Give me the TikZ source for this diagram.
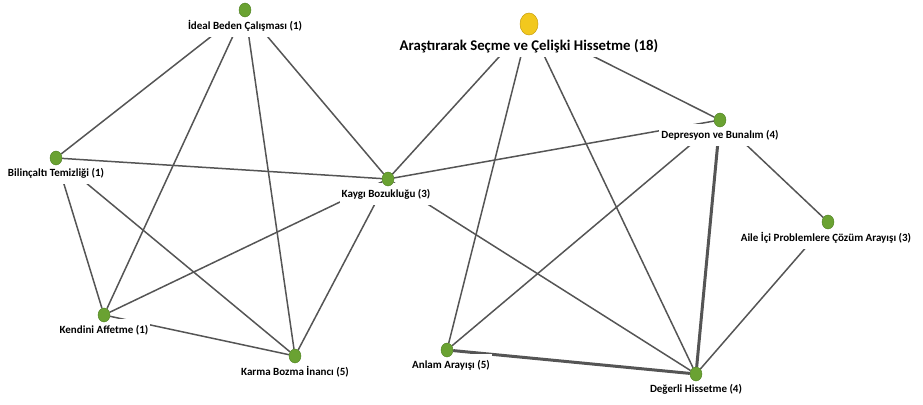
\documentclass[tikz,border=0pt]{standalone}
\usepackage{fontspec}
\setmainfont{Carlito}
\usetikzlibrary{positioning, shapes.geometric}
\definecolor{topicgreen}{HTML}{6AA232}
\definecolor{topicrim}{HTML}{4E7F22}
\definecolor{coreyellow}{HTML}{F2C81E}
\definecolor{corerim}{HTML}{C9A010}
\definecolor{linkgray}{HTML}{555555}
\pgfdeclarelayer{links}
\pgfdeclarelayer{tags}
\pgfsetlayers{links,tags,main}

\begin{document}
\begin{tikzpicture}[x=1pt, y=-1pt,
    gdot/.style={ellipse, fill=topicgreen, draw=topicrim, line width=0.4pt, minimum width=12pt, minimum height=14pt, inner sep=0pt},
    ydot/.style={ellipse, fill=coreyellow, draw=corerim, line width=0.5pt, minimum width=18pt, minimum height=22pt, inner sep=0pt},
    tag/.style={fill=white, inner xsep=2pt, inner ysep=6pt, font=\bfseries\fontsize{11}{13}\selectfont},
    coretag/.style={tag, inner ysep=3pt, text height=20pt, text depth=4pt, font=\bfseries\fontsize{14.8}{17}\selectfont},
    link/.style={draw=linkgray, line width=1.5pt},
    strong/.style={link, line width=3pt}]
        \useasboundingbox (0,0) rectangle (923,404);
        \node[gdot] (ideal) at (245, 10) {};
        \node[ydot] (core) at (529, 24) {};
        \node[gdot] (bilinc) at (56, 158) {};
        \node[gdot] (kaygi) at (388, 179) {};
        \node[gdot] (depres) at (720, 120) {};
        \node[gdot] (aile) at (828, 222) {};
        \node[gdot] (kendini) at (104, 315) {};
        \node[gdot] (karma) at (295, 356) {};
        \node[gdot] (anlam) at (447, 350) {};
        \node[gdot] (degerli) at (696, 374) {};
        % labels
        \begin{pgfonlayer}{tags}
        \node[tag, below=-3pt of ideal] (idealtag) {İdeal Beden Çalışması (1)};
        \node[coretag, below=-8pt of core] (coretag) {Araştırarak Seçme ve Çelişki Hissetme (18)};
        \node[tag, below=-3pt of bilinc] (bilinctag) {Bilinçaltı Temizliği (1)};
        \node[tag, below=-3pt of kaygi, xshift=-2pt] (kaygitag) {Kaygı Bozukluğu (3)};
        \node[tag, below=-3pt of depres] (deprestag) {Depresyon ve Bunalım (4)};
        \node[tag, below=-3pt of aile, xshift=-2pt] (ailetag) {Aile İçi Problemlere Çözüm Arayışı (3)};
        \node[tag, below=-3pt of kendini] (kendinitag) {Kendini Affetme (1)};
        \node[tag, below=-3pt of karma] (karmatag) {Karma Bozma İnancı (5)};
        \node[tag, below=-3pt of anlam, xshift=4pt] (anlamtag) {Anlam Arayışı (5)};
        \node[tag, below=-3pt of degerli] (degerlitag) {Değerli Hissetme (4)};
        \end{pgfonlayer}
        % links
        \begin{pgfonlayer}{links}
        \draw[link] (ideal) -- (bilinc);
        \draw[link] (ideal) -- (kendini);
        \draw[link] (ideal) -- (karma);
        \draw[link] (ideal) -- (kaygi);
        \draw[link] (bilinc) -- (kaygi);
        \draw[link] (bilinc) -- (kendini);
        \draw[link] (bilinc) -- (karma);
        \draw[link] (kaygi) -- (kendini);
        \draw[link] (kaygi) -- (karma);
        \draw[link] (kendini) -- (karma);
        \draw[link] (kaygi) -- (core);
        \draw[link] (kaygi) -- (depres);
        \draw[link] (kaygi) -- (degerli);
        \draw[link] (core) -- (anlam);
        \draw[link] (core) -- (degerli);
        \draw[link] (core) -- (depres);
        \draw[link] (depres) -- (anlam);
        \draw[strong] (depres) -- (degerli);
        \draw[link] (depres) -- (aile);
        \draw[link] (aile) -- (degerli);
        \draw[strong] (anlam) -- (degerli);
        \end{pgfonlayer}
      \end{tikzpicture}
\end{document}
